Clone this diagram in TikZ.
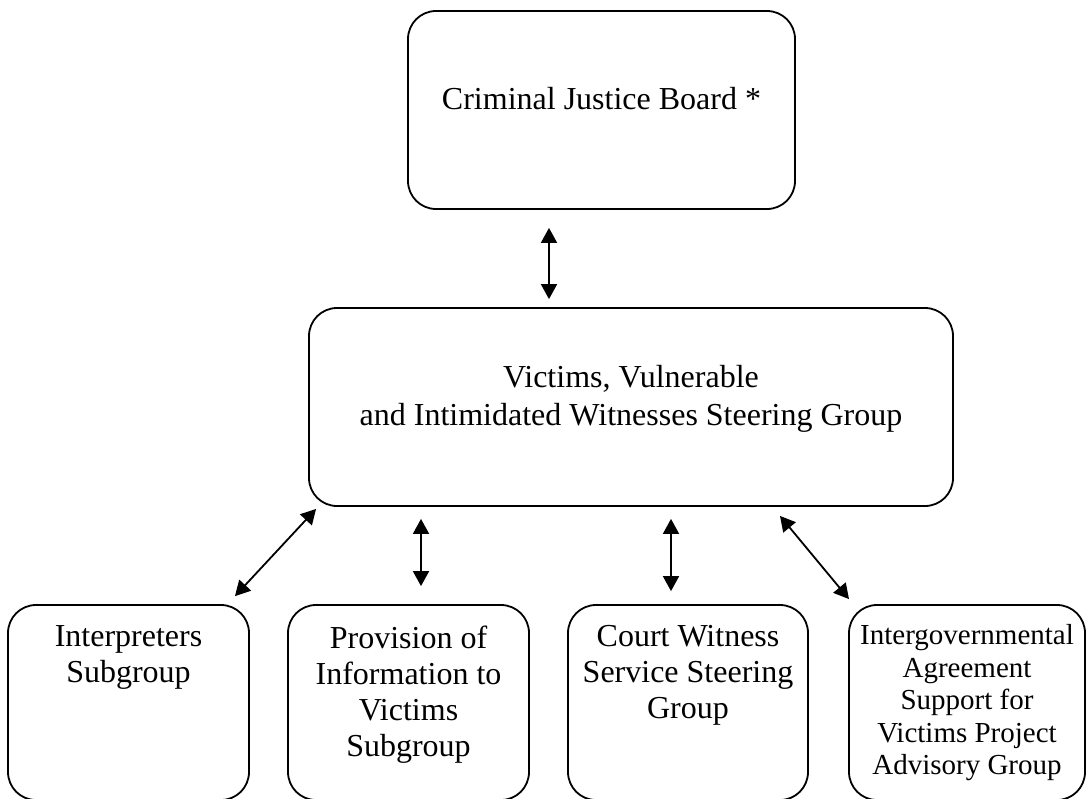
\documentclass[tikz,border=0pt]{standalone}
\usepackage{fontspec}
\setmainfont{Liberation Serif}
\usetikzlibrary{arrows.meta}
\usetikzlibrary{positioning}
\usetikzlibrary{calc}

\begin{document}
\begin{tikzpicture}[x=0.5pt,y=-0.5pt,
        box/.style={draw,line width=0.9pt,rounded corners=14pt,inner sep=0pt},
        txt/.style={align=center,inner sep=0pt,font=\fontsize{16}{18}\selectfont},
        link/.style={{Triangle[length=7.5pt,width=8pt]}-{Triangle[length=7.5pt,width=8pt]},line width=0.9pt}]
        \useasboundingbox (0,0) rectangle (1086,798);
        \node[box,minimum width=193.5pt,minimum height=99pt] (cjb) at (601.5,110) {};
        \node[txt,below=38.5pt of cjb.north] (cjbtext) {Criminal Justice Board *};
        \node[box,minimum width=322pt,minimum height=99pt] (vig) at (631,407) {};
        \node[txt,font=\fontsize{16}{19}\selectfont,below=29pt of vig.north] (vigtext) {Victims, Vulnerable\\and Intimidated Witnesses Steering Group};
        \node[box,minimum width=120.5pt,minimum height=97.5pt] (interp) at (128.5,702.5) {};
        \node[txt,below=10.5pt of interp.north] (interptext) {Interpreters\\Subgroup};
        \node[box,minimum width=120.5pt,minimum height=97.5pt] (provinfo) at (408.5,702.5) {};
        \node[txt,below=10.5pt of provinfo.north] (provinfotext) {Provision of\\Information to\\Victims\\Subgroup};
        \node[box,minimum width=120pt,minimum height=97.5pt] (cwss) at (688,702.5) {};
        \node[txt,below=10.5pt of cwss.north] (cwsstext) {Court Witness\\Service Steering\\Group};
        \node[box,minimum width=118pt,minimum height=97.5pt] (igag) at (967,702.5) {};
        \node[txt,font=\fontsize{14.5}{16.25}\selectfont,below=10pt of igag.north] (igagtext) {Intergovernmental\\Agreement\\Support for\\Victims Project\\Advisory Group};
        \draw[link] ($(cjb.south)+(-52.5,18)$) -- ($(vig.north)+(-82,-8)$);
        \draw[link] ($(vig.south west)+(8,2)$) -- ($(interp.north)+(106.5,-8)$);
        \draw[link] ($(vig.south)+(-210,12)$) -- ($(provinfo.north)+(12.5,-18)$);
        \draw[link] ($(vig.south)+(40,12)$) -- ($(cwss.north)+(-17,-13)$);
        \draw[link] ($(vig.south)+(149,9)$) -- ($(igag.north)+(-118,-5)$);
\end{tikzpicture}
\end{document}
